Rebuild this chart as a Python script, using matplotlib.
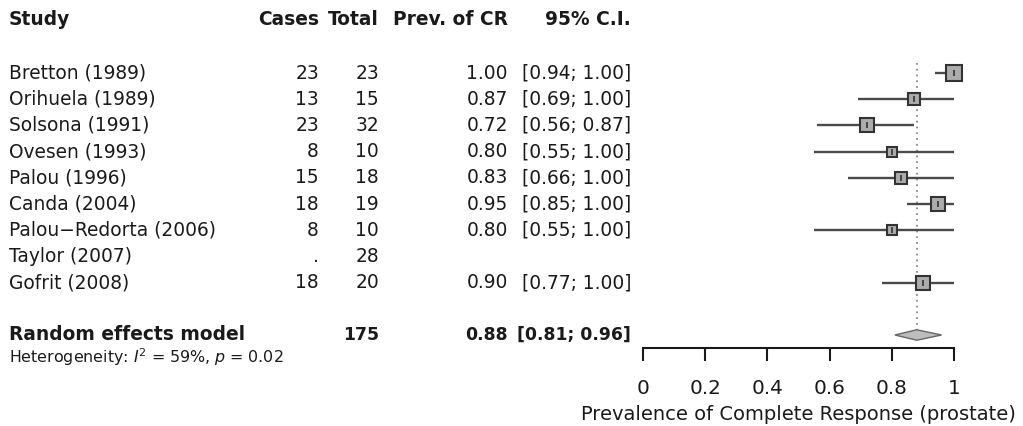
import matplotlib
matplotlib.use("Agg")
import matplotlib.pyplot as plt
from matplotlib.transforms import blended_transform_factory
from matplotlib.patches import Polygon
import numpy as np

plt.rcParams['font.family'] = ['DejaVu Sans']
plt.rcParams['mathtext.fontset'] = 'dejavusans'

# ---------------- data ----------------
studies = ["Bretton (1989)", "Orihuela (1989)", "Solsona (1991)", "Ovesen (1993)",
           "Palou (1996)", "Canda (2004)", "Palou\u2212Redorta (2006)", "Taylor (2007)",
           "Gofrit (2008)"]
cases = [23, 13, 23, 8, 15, 18, 8, None, 18]
totals = [23, 15, 32, 10, 18, 19, 10, 28, 20]
prev = [1.00, 0.87, 0.72, 0.80, 0.83, 0.95, 0.80, None, 0.90]
lower = [0.94, 0.69, 0.56, 0.55, 0.66, 0.85, 0.55, None, 0.77]
upper = [1.00, 1.00, 0.87, 1.00, 1.00, 1.00, 1.00, None, 1.00]
weights = [18.6, 11.7, 12.3, 8.3, 10.4, 15.7, 8.3, None, 14.8]

pooled_label = "Random effects model"
pooled_total = 175
pooled_est = 0.88
pooled_lower = 0.81
pooled_upper = 0.96
het_text = r"Heterogeneity: $\mathit{I}^2$ = 59%, $\mathit{p}$ = 0.02"

headers = ["Study", "Cases", "Total", "Prev. of CR", "95% C.I."]
xticks = [0, 0.2, 0.4, 0.6, 0.8, 1]
xtick_labels = ["0", "0.2", "0.4", "0.6", "0.8", "1"]
xlabel = "Prevalence of Complete Response (prostate)"

# ---------------- layout ----------------
W, H = 1023, 426
ROW0_PX, ROW_PX = 73, 26.2   # pixel y of row 1 and row spacing
AXIS_PX = 348
X0_PX, X1_PX = 643, 954

fig = plt.figure(figsize=(W / 100, H / 100), dpi=100)
ax = fig.add_axes([X0_PX / W, (H - AXIS_PX) / H, (X1_PX - X0_PX) / W, AXIS_PX / H])
ax.set_xlim(0, 1)
top_row = 1 - ROW0_PX / ROW_PX
bottom_row = 1 + (AXIS_PX - ROW0_PX) / ROW_PX
ax.set_ylim(bottom_row, top_row)
ax.patch.set_visible(False)

for s in ["top", "right", "left"]:
    ax.spines[s].set_visible(False)
ax.spines["bottom"].set_linewidth(1.5)
ax.spines["bottom"].set_color("#1a1a1a")
ax.set_yticks([])
ax.set_xticks(xticks)
ax.set_xticklabels(xtick_labels)
ax.tick_params(axis="x", length=9.4, width=1.5, color="#1a1a1a", pad=13,
               labelsize=14.4, labelcolor="#1a1a1a")

txt_color = "#1a1a1a"
trans = blended_transform_factory(fig.transFigure, ax.transData)
FS = 13.4
FS_BOLD_NUM = 12.4

col_study = 9 / W
col_cases = 319 / W
col_total = 379 / W
col_prev = 508 / W
col_ci = 631 / W

# header
hdr_row = 1 + (19 - ROW0_PX) / ROW_PX
ax.text(col_study, hdr_row, headers[0], transform=trans, ha="left", va="center",
        fontsize=FS, fontweight="bold", color=txt_color)
for x, h in zip([col_cases, col_total, col_prev, col_ci], headers[1:]):
    ax.text(x, hdr_row, h, transform=trans, ha="right", va="center",
            fontsize=FS, fontweight="bold", color=txt_color)

# study rows
pooled_row = 11
dot_top = 1 + (63 - ROW0_PX) / ROW_PX
ax.plot([pooled_est, pooled_est], [dot_top, pooled_row - 0.2], linestyle=(0, (1, 2.2)),
        color="#8a8a8a", lw=1.3, zorder=1)

for i, name in enumerate(studies):
    r = i + 1
    ax.text(col_study, r, name, transform=trans, ha="left", va="center",
            fontsize=FS, color=txt_color)
    ax.text(col_cases, r, "." if cases[i] is None else str(cases[i]), transform=trans,
            ha="right", va="center", fontsize=FS, color=txt_color)
    ax.text(col_total, r, str(totals[i]), transform=trans, ha="right", va="center",
            fontsize=FS, color=txt_color)
    if prev[i] is None:
        continue
    ax.text(col_prev, r, f"{prev[i]:.2f}", transform=trans, ha="right", va="center",
            fontsize=FS, color=txt_color)
    ax.text(col_ci, r, f"[{lower[i]:.2f}; {upper[i]:.2f}]", transform=trans,
            ha="right", va="center", fontsize=FS, color=txt_color)
    ax.plot([lower[i], upper[i]], [r, r], color="#4a4a4a", lw=1.7, zorder=2,
            solid_capstyle="butt", clip_on=False)
    side_px = np.sqrt(weights[i] * 13.78)
    ax.plot([prev[i]], [r], marker="s", markersize=side_px * 0.72,
            mfc="#acacac", mec="#333333", mew=1.5, zorder=3, linestyle="none",
            clip_on=False)
    ax.plot([prev[i]], [r], marker="|", markersize=5, mew=1.2, color="#333333",
            zorder=4, linestyle="none", clip_on=False)

# pooled
ax.text(col_study, pooled_row, pooled_label, transform=trans, ha="left", va="center",
        fontsize=FS, fontweight="bold", color=txt_color)
ax.text(col_total, pooled_row, str(pooled_total), transform=trans, ha="right",
        va="center", fontsize=FS_BOLD_NUM, fontweight="bold", color=txt_color)
ax.text(col_prev, pooled_row, f"{pooled_est:.2f}", transform=trans, ha="right",
        va="center", fontsize=FS_BOLD_NUM, fontweight="bold", color=txt_color)
ax.text(col_ci, pooled_row, f"[{pooled_lower:.2f}; {pooled_upper:.2f}]", transform=trans,
        ha="right", va="center", fontsize=FS_BOLD_NUM, fontweight="bold", color=txt_color)
dh = 0.2
diamond = Polygon([[pooled_lower, pooled_row], [pooled_est, pooled_row - dh],
                   [pooled_upper, pooled_row], [pooled_est, pooled_row + dh]],
                  closed=True, facecolor="#bdbdbd", edgecolor="#666666", lw=1.0, zorder=3)
ax.add_patch(diamond)

het_row = 1 + (357 - ROW0_PX) / ROW_PX
ax.text(col_study, het_row, het_text, transform=trans, ha="left", va="center",
        fontsize=11.4, color=txt_color)

fig.text((X0_PX + X1_PX) / 2 / W, 1 - 414 / H, xlabel, ha="center", va="center",
         fontsize=14, color=txt_color)

fig.savefig("out.png", dpi=100)
